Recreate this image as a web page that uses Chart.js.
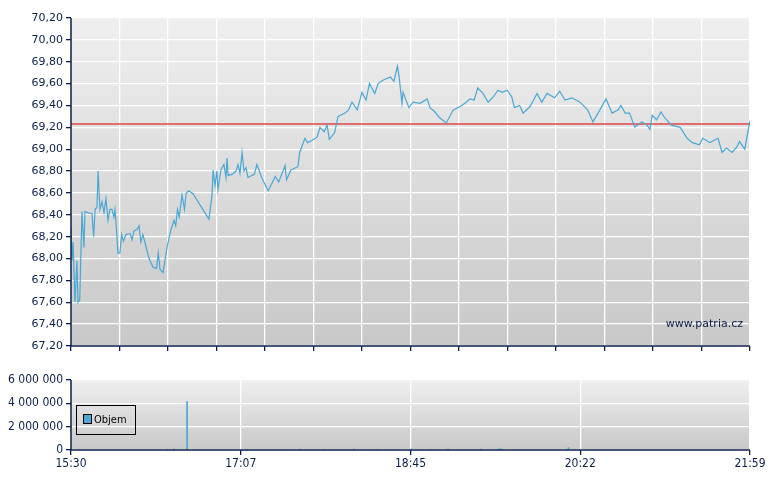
<!DOCTYPE html>
<html><head><meta charset="utf-8">
<script src="https://cdn.jsdelivr.net/npm/chart.js@4"></script>
<style>body{margin:0;background:#fff;width:780px;height:490px;position:relative;overflow:hidden}
canvas{position:absolute;left:0}</style></head><body>
<div style="position:absolute;left:0;top:0;width:780px;height:360px"><canvas id="c1"></canvas></div>
<div style="position:absolute;left:0;top:360px;width:780px;height:130px"><canvas id="c2"></canvas></div>
<script>
const timeLabels=["15:30","17:07","18:45","20:22","21:59"];
const priceTicks=[67.2,67.4,67.6,67.8,68.0,68.2,68.4,68.6,68.8,69.0,69.2,69.4,69.6,69.8,70.0,70.2];
const refPrice=69.23;
const minutes=[0,0.6,1.2,2.3,3.4,4,5,6.3,7.4,8,9.7,12,13,13.8,14.9,15.5,16.6,17.8,18.9,20,21.2,22.3,23.5,24.6,25.2,26,26.9,28,29,30,31.5,33.8,35,36,38,39,40,41.2,44.7,47,49,50,51,52.7,55,57,59,60,61,62,63.6,65,66,67.5,70,79,80.8,81.4,82.5,83.6,84.2,85.9,87.6,88.8,89.4,90,92.3,94.5,95.7,96.8,98,99.1,100.3,101.4,102.5,105,106.5,109.5,113,117,119,122.6,123.5,126,130,131,134,135.5,138,141,142.6,145,146.7,148,151,153,157,159,161,164,166.7,169,171,174,176,178.7,183,185,187,188,189.6,190.2,193.6,196,200,204,205.7,208.5,211,215,219,223,225.7,228.6,231,233,236,239,242,244.6,247,249.8,252.5,254,257,259,263,267,269.7,272.7,277,280,283,287,291.6,296,299,303,306.5,310,313.5,315,317.5,320,323,327,330,331.7,333,335.5,338,340,344,349,353,356,360,362,366,370.7,373,375.5,378.7,381.5,383,386,388.5,389];
const prices=[68.30,67.98,68.15,67.60,67.98,67.60,67.62,68.43,68.10,68.43,68.42,68.41,68.20,68.45,68.47,68.80,68.45,68.52,68.42,68.55,68.35,68.45,68.45,68.38,68.45,68.28,68.05,68.05,68.22,68.16,68.22,68.23,68.17,68.25,68.27,68.30,68.15,68.22,68.00,67.92,67.91,68.05,67.90,67.87,68.10,68.25,68.35,68.30,68.45,68.38,68.58,68.45,68.60,68.62,68.59,68.36,68.58,68.81,68.67,68.80,68.63,68.81,68.86,68.74,68.92,68.76,68.77,68.80,68.86,68.78,68.97,68.80,68.83,68.74,68.75,68.77,68.86,68.73,68.62,68.75,68.70,68.85,68.72,68.81,68.84,68.97,69.10,69.06,69.08,69.11,69.20,69.16,69.22,69.09,69.15,69.30,69.33,69.36,69.43,69.36,69.52,69.45,69.60,69.51,69.60,69.63,69.66,69.62,69.76,69.66,69.42,69.52,69.38,69.43,69.42,69.46,69.38,69.34,69.29,69.24,69.36,69.39,69.42,69.46,69.45,69.56,69.51,69.43,69.48,69.54,69.52,69.54,69.48,69.38,69.40,69.33,69.39,69.51,69.43,69.51,69.47,69.53,69.45,69.47,69.43,69.36,69.25,69.36,69.46,69.33,69.36,69.40,69.33,69.33,69.20,69.25,69.22,69.18,69.31,69.27,69.34,69.29,69.22,69.20,69.10,69.06,69.04,69.10,69.06,69.10,68.97,69.01,68.97,69.02,69.07,69.00,69.22,69.26];
const volMinutes=[5,66.5,55,59,100,131,145,162,176,195,206,216,235,245,246,247,285];
const volumes=[60000,4150000,50000,80000,60000,70000,40000,80000,60000,90000,50000,70000,80000,100000,90000,80000,200000];
const volTicks=[0,2000000,4000000,6000000];

const navy='#0b1e4a';
const bgPlugin={id:'bg',beforeDraw(c){const a=c.chartArea,x=c.ctx;const g=x.createLinearGradient(0,a.top,0,a.bottom);g.addColorStop(0,'#efefef');g.addColorStop(1,'#c8c8c8');x.save();x.fillStyle=g;x.fillRect(a.left,a.top,a.right-a.left,a.bottom-a.top);x.restore();}};
const frame={id:'frame',afterDraw(c){const a=c.chartArea,x=c.ctx;x.save();x.strokeStyle=navy;x.lineWidth=1.5;x.beginPath();x.moveTo(a.left,a.top);x.lineTo(a.left,a.bottom);x.lineTo(a.right,a.bottom);x.stroke();x.restore();}};
const fmtP=v=>v.toFixed(2).replace('.',',');
const fmtV=v=>String(v).replace(/\B(?=(\d{3})+(?!\d))/g,' ');
const T=389;

new Chart(document.getElementById('c1'),{type:'line',
data:{datasets:[
{data:minutes.map((m,i)=>({x:m,y:prices[i]})),borderColor:'#4ba7d3',borderWidth:1.2,pointRadius:0,tension:0},
{data:[{x:0,y:refPrice},{x:T,y:refPrice}],borderColor:'rgba(222,80,80,0.8)',borderWidth:2,pointRadius:0}]},
options:{animation:false,responsive:true,maintainAspectRatio:false,
layout:{padding:{top:18,right:30,left:0,bottom:0}},
plugins:{legend:{display:false},tooltip:{enabled:false}},
scales:{
x:{type:'linear',min:0,max:T,afterBuildTicks(ax){ax.ticks=Array.from({length:15},(_,i)=>({value:i*T/14}));},afterFit(ax){ax.height=14;},
ticks:{display:true,callback:()=>''},grid:{color:'#ffffff',lineWidth:1.3,tickLength:5,tickColor:navy},border:{display:false}},
y:{min:67.2,max:70.2,afterBuildTicks(ax){ax.ticks=priceTicks.map(v=>({value:v}));},afterFit(ax){ax.width=71;},
ticks:{color:navy,font:{family:'DejaVu Sans',size:11},padding:3,callback:v=>fmtP(v)},
grid:{color:'#ffffff',lineWidth:1.3,tickLength:5,tickColor:navy},border:{display:false}}}},
plugins:[bgPlugin,frame,{id:'wm',afterDraw(c){const x=c.ctx;x.save();x.fillStyle=navy;x.font='11px DejaVu Sans';x.textAlign='right';x.fillText('www.patria.cz',743,327);x.restore();}}]});

new Chart(document.getElementById('c2'),{type:'bar',
data:{datasets:[{data:volMinutes.map((m,i)=>({x:m,y:volumes[i]})),backgroundColor:'#4ba7d3',borderColor:'#4ba7d3',barThickness:1,label:'Objem'}]},
options:{animation:false,responsive:true,maintainAspectRatio:false,
layout:{padding:{top:20,right:30,left:0,bottom:0}},
plugins:{legend:{display:false},tooltip:{enabled:false}},
scales:{
x:{type:'linear',offset:false,min:0,max:T,afterBuildTicks(ax){ax.ticks=timeLabels.map((_,i)=>({value:i*T/4}));},afterFit(ax){ax.height=40;},
ticks:{color:navy,font:{family:'DejaVu Sans Condensed',size:12},maxRotation:0,padding:2,callback:(v,i)=>timeLabels[i]},
grid:{offset:false,color:'#ffffff',lineWidth:1.3,tickLength:5,tickColor:navy},border:{display:false}},
y:{min:0,max:6000000,afterBuildTicks(ax){ax.ticks=volTicks.map(v=>({value:v}));},afterFit(ax){ax.width=71;},
ticks:{color:navy,font:{family:'DejaVu Sans Condensed',size:12},padding:3,callback:v=>fmtV(v)},
grid:{color:'#ffffff',lineWidth:1.3,tickLength:5,tickColor:navy},border:{display:false}}}},
plugins:[bgPlugin,frame,{id:'leg',afterDraw(c){const x=c.ctx,a=c.chartArea;x.save();x.strokeStyle='#000';x.lineWidth=1;x.strokeRect(a.left+5.5,a.top+25.5,59,29);x.fillStyle='#4ba7d3';x.fillRect(a.left+13,a.top+35,7,8);x.strokeRect(a.left+12.5,a.top+34.5,8,9);x.fillStyle='#000';x.font='11px DejaVu Sans Condensed';x.textBaseline='middle';x.fillText('Objem',a.left+23,a.top+40);x.restore();}}]});
</script></body></html>
